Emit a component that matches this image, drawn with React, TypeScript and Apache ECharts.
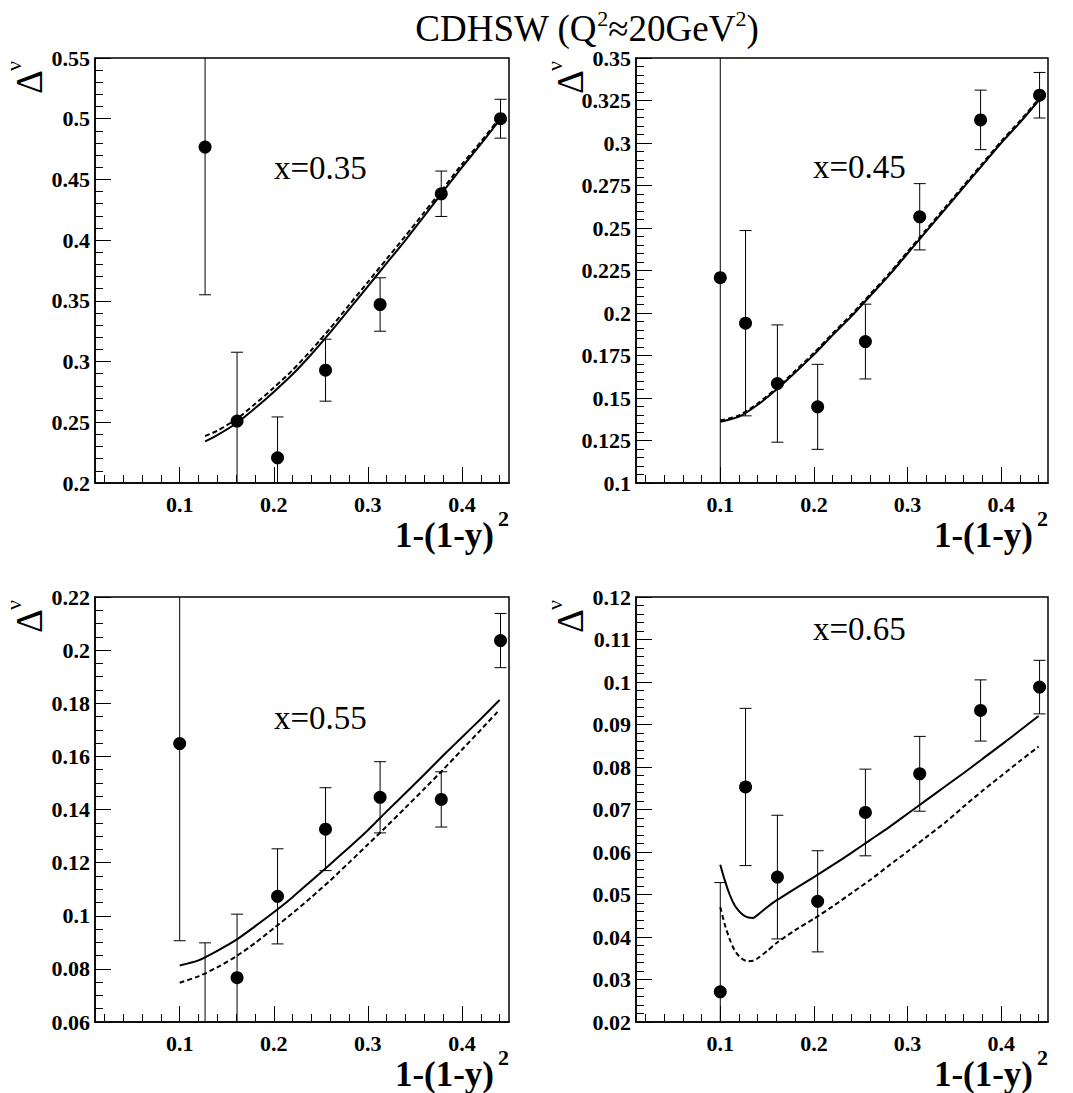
import React, { useEffect, useRef } from "react";
import * as echarts from "echarts";

// Abscissae of the measurements, 1-(1-y)^2
const X_BINS = [0.1, 0.127, 0.161, 0.204, 0.255, 0.313, 0.378, 0.441];
const X_BINS_035 = [0.127, 0.161, 0.204, 0.255, 0.313, 0.378, 0.441];

// CDHSW data points and their (symmetric) errors
const DELTA_035 = [0.4767, 0.251, 0.2207, 0.2929, 0.347, 0.4382, 0.5];
const ERR_035 = [0.1217, 0.0567, 0.0337, 0.0255, 0.022, 0.0187, 0.016];

const DELTA_045 = [0.2208, 0.194, 0.1585, 0.1448, 0.1832, 0.2566, 0.3136, 0.3281];
const ERR_045 = [0.15, 0.0545, 0.0345, 0.025, 0.022, 0.0195, 0.0175, 0.0134];

const DELTA_055 = [0.1648, 0.04, 0.0767, 0.1073, 0.1326, 0.1446, 0.1438, 0.2036];
const ERR_055 = [0.0742, 0.0498, 0.0239, 0.0179, 0.0156, 0.0134, 0.0104, 0.0102];

const DELTA_065 = [0.0271, 0.0753, 0.0541, 0.0484, 0.0693, 0.0784, 0.0933, 0.0988];
const ERR_065 = [0.0257, 0.0185, 0.01455, 0.0119, 0.0102, 0.0088, 0.0072, 0.0063];

// Model curves: solid and dashed
const CURVE_X_035 = [0.127, 0.14, 0.16, 0.18, 0.2, 0.22, 0.24, 0.26, 0.28, 0.3, 0.32, 0.34, 0.36, 0.38, 0.4, 0.42, 0.44];
const SOLID_035 = [0.2343, 0.2395, 0.249, 0.2615, 0.275, 0.2895, 0.306, 0.324, 0.343, 0.362, 0.381, 0.4, 0.42, 0.44, 0.46, 0.479, 0.499];
const DASHED_035 = [0.2387, 0.243, 0.2525, 0.265, 0.2785, 0.293, 0.3095, 0.3275, 0.3465, 0.3655, 0.3845, 0.4035, 0.423, 0.4425, 0.4625, 0.481, 0.5005];

const CURVE_X = [0.1, 0.12, 0.14, 0.16, 0.18, 0.2, 0.22, 0.24, 0.26, 0.28, 0.3, 0.32, 0.34, 0.36, 0.38, 0.4, 0.42, 0.44];
const SOLID_045 = [0.136, 0.139, 0.146, 0.155, 0.165, 0.1755, 0.187, 0.198, 0.21, 0.222, 0.235, 0.248, 0.261, 0.274, 0.287, 0.3, 0.312, 0.325];
const DASHED_045 = [0.1368, 0.1398, 0.1468, 0.1558, 0.166, 0.1765, 0.188, 0.199, 0.211, 0.223, 0.236, 0.249, 0.262, 0.275, 0.288, 0.301, 0.313, 0.3258];

const SOLID_055 = [0.0813, 0.0832, 0.0868, 0.0909, 0.096, 0.1013, 0.107, 0.1132, 0.1194, 0.1257, 0.1322, 0.1393, 0.1462, 0.1532, 0.1603, 0.1672, 0.1741, 0.1812];
const DASHED_055 = [0.0748, 0.0772, 0.0806, 0.0847, 0.0897, 0.0953, 0.101, 0.107, 0.1133, 0.12, 0.1268, 0.1337, 0.1407, 0.1478, 0.155, 0.1625, 0.17, 0.1776];

const CURVE_X_065 = [0.1, 0.105, 0.11, 0.115, 0.12, 0.125, 0.13, 0.135, 0.14, 0.15, 0.16, 0.18, 0.2, 0.22, 0.24, 0.26, 0.28, 0.3, 0.32, 0.34, 0.36, 0.38, 0.4, 0.42, 0.44];
const SOLID_065 = [0.057, 0.0532, 0.05, 0.0476, 0.0461, 0.0451, 0.0446, 0.0445, 0.0452, 0.047, 0.0486, 0.0514, 0.0541, 0.0569, 0.0598, 0.0628, 0.0658, 0.069, 0.0722, 0.0754, 0.0786, 0.0819, 0.0852, 0.0886, 0.092];
const DASHED_065 = [0.047, 0.0428, 0.0395, 0.037, 0.0355, 0.0346, 0.0343, 0.0344, 0.035, 0.0367, 0.0386, 0.0416, 0.0443, 0.0472, 0.0503, 0.0534, 0.0568, 0.0601, 0.0635, 0.0669, 0.0707, 0.0744, 0.0779, 0.0814, 0.0848];

// Axis ticks
const X_MIN = 0.01;
const X_MAX = 0.45;
const X_MAJOR = [0.1, 0.2, 0.3, 0.4];
const X_MINOR = [0.02, 0.04, 0.06, 0.08, 0.12, 0.14, 0.16, 0.18, 0.22, 0.24, 0.26, 0.28, 0.32, 0.34, 0.36, 0.38, 0.42, 0.44];

const PANEL_NAMES = ["x=0.35", "x=0.45", "x=0.55", "x=0.65"];
const Y_MIN = [0.2, 0.1, 0.06, 0.02];
const Y_MAX = [0.55, 0.35, 0.22, 0.12];
const Y_STEP = [0.05, 0.025, 0.02, 0.01];
const Y_MINOR_SPLIT = [5, 5, 4, 5];

// Title pieces: [text, isSuperscript]
const TITLE_PARTS: [string, boolean][] = [
  ["CDHSW (Q", false],
  ["2", true],
  ["≈20GeV", false],
  ["2", true],
  [")", false],
];
const X_TITLE = "1-(1-y)";

const SERIF = "Liberation Serif";
const TITLE_SIZE = 37;
const SUP_SIZE = 22;

// Layout of the four frames, in pixels
const GRIDS = [
  { left: 95, top: 58, width: 414, height: 425 },
  { left: 636, top: 58, width: 412, height: 425 },
  { left: 95, top: 597, width: 414, height: 425 },
  { left: 636, top: 597, width: 412, height: 425 },
];
const NAME_OFFSETS = [
  [179, 110],
  [177, 109],
  [179, 121],
  [177, 32],
];

const fmt = (v: number) => String(+v.toFixed(4));

function textWidth(text: string, size: number): number {
  const ctx = document.createElement("canvas").getContext("2d");
  if (!ctx) return text.length * size * 0.5;
  ctx.font = `${size}px "${SERIF}"`;
  return ctx.measureText(text).width;
}

export default function App() {
  const ref = useRef<HTMLDivElement>(null);

  useEffect(() => {
    if (!ref.current) return;
    const chart = echarts.init(ref.current, undefined, { renderer: "svg" });

    const panels = [
      { xs: X_BINS_035, vals: DELTA_035, errs: ERR_035, cx: CURVE_X_035, solid: SOLID_035, dashed: DASHED_035 },
      { xs: X_BINS, vals: DELTA_045, errs: ERR_045, cx: CURVE_X, solid: SOLID_045, dashed: DASHED_045 },
      { xs: X_BINS, vals: DELTA_055, errs: ERR_055, cx: CURVE_X, solid: SOLID_055, dashed: DASHED_055 },
      { xs: X_BINS, vals: DELTA_065, errs: ERR_065, cx: CURVE_X_065, solid: SOLID_065, dashed: DASHED_065 },
    ];

    const axisLineStyle = { color: "#000", width: 1.5 };
    const tickLineStyle = { color: "#000", width: 1 };
    const labelStyle = {
      color: "#000",
      fontFamily: SERIF,
      fontWeight: "bold" as const,
      fontSize: 22,
      lineHeight: 18,
    };

    const grid = GRIDS.map((g) => ({
      ...g,
      show: true,
      borderColor: "#000",
      borderWidth: 1.5,
      backgroundColor: "transparent",
      containLabel: false,
    }));

    const xAxis: any[] = [];
    const yAxis: any[] = [];
    const series: any[] = [];
    const graphic: any[] = [];

    panels.forEach((p, i) => {
      // major ticks with labels
      xAxis.push({
        gridIndex: i,
        type: "value",
        position: "bottom",
        min: X_MIN,
        max: X_MAX,
        axisLine: { show: true, lineStyle: axisLineStyle },
        axisTick: { show: true, inside: true, length: 16, customValues: X_MAJOR, lineStyle: tickLineStyle },
        axisLabel: { ...labelStyle, customValues: X_MAJOR, margin: 12, formatter: fmt },
        splitLine: { show: false },
      });
      // minor ticks
      xAxis.push({
        gridIndex: i,
        type: "value",
        position: "bottom",
        min: X_MIN,
        max: X_MAX,
        axisLine: { show: false },
        axisTick: { show: true, inside: true, length: 8, customValues: X_MINOR, lineStyle: tickLineStyle },
        axisLabel: { show: false },
        splitLine: { show: false },
      });
      yAxis.push({
        gridIndex: i,
        type: "value",
        min: Y_MIN[i],
        max: Y_MAX[i],
        interval: Y_STEP[i],
        axisLine: { show: true, lineStyle: axisLineStyle },
        axisTick: { show: true, inside: true, length: 16, lineStyle: tickLineStyle },
        minorTick: { show: true, splitNumber: Y_MINOR_SPLIT[i], length: 8, lineStyle: tickLineStyle },
        axisLabel: { ...labelStyle, margin: 5, formatter: fmt },
        splitLine: { show: false },
        minorSplitLine: { show: false },
      });

      const xIdx = i * 2;

      series.push({
        type: "line",
        xAxisIndex: xIdx,
        yAxisIndex: i,
        data: p.cx.map((x, k) => [x, p.dashed[k]]),
        showSymbol: false,
        symbol: "none",
        smooth: 0.25,
        clip: true,
        lineStyle: { color: "#000", width: 2, type: [5, 3] },
        z: 3,
      });
      series.push({
        type: "line",
        xAxisIndex: xIdx,
        yAxisIndex: i,
        data: p.cx.map((x, k) => [x, p.solid[k]]),
        showSymbol: false,
        symbol: "none",
        smooth: 0.25,
        clip: true,
        lineStyle: { color: "#000", width: 2 },
        z: 3,
      });
      series.push({
        type: "custom",
        xAxisIndex: xIdx,
        yAxisIndex: i,
        clip: true,
        encode: { x: 0, y: [1, 2] },
        data: p.xs.map((x, k) => [x, p.vals[k] - p.errs[k], p.vals[k] + p.errs[k]]),
        renderItem: (_params: any, api: any) => {
          const x = api.value(0);
          const lo = api.coord([x, api.value(1)]);
          const hi = api.coord([x, api.value(2)]);
          const cap = 6;
          const st = { stroke: "#000", lineWidth: 1 };
          return {
            type: "group",
            children: [
              { type: "line", shape: { x1: lo[0], y1: lo[1], x2: hi[0], y2: hi[1] }, style: st },
              { type: "line", shape: { x1: lo[0] - cap, y1: lo[1], x2: lo[0] + cap, y2: lo[1] }, style: st },
              { type: "line", shape: { x1: hi[0] - cap, y1: hi[1], x2: hi[0] + cap, y2: hi[1] }, style: st },
            ],
          };
        },
        z: 4,
      });
      series.push({
        type: "scatter",
        xAxisIndex: xIdx,
        yAxisIndex: i,
        clip: true,
        symbol: "circle",
        symbolSize: 13,
        itemStyle: { color: "#000", opacity: 1 },
        data: p.xs.map((x, k) => [x, p.vals[k]]),
        z: 5,
      });

      const g = GRIDS[i];
      const right = g.left + g.width;
      const bottom = g.top + g.height;

      // panel label
      graphic.push({
        type: "text",
        x: g.left + NAME_OFFSETS[i][0],
        y: g.top + NAME_OFFSETS[i][1],
        style: {
          text: PANEL_NAMES[i],
          fontFamily: SERIF,
          fontSize: 33,
          lineHeight: 28,
          fill: "#000",
          align: "left",
          verticalAlign: "middle",
        },
      });
      // x axis title with its exponent
      graphic.push({
        type: "text",
        x: right - 15,
        y: bottom + 52,
        style: {
          text: X_TITLE,
          fontFamily: SERIF,
          fontWeight: "bold",
          fontSize: 35,
          lineHeight: 30,
          fill: "#000",
          align: "right",
          verticalAlign: "middle",
        },
      });
      graphic.push({
        type: "text",
        x: right,
        y: bottom + 35,
        style: {
          text: "2",
          fontFamily: SERIF,
          fontWeight: "bold",
          fontSize: 22,
          lineHeight: 18,
          fill: "#000",
          align: "right",
          verticalAlign: "middle",
        },
      });
      // y axis title, rotated
      graphic.push({
        type: "text",
        x: g.left - 66,
        y: g.top + 24,
        rotation: Math.PI / 2,
        style: {
          text: "Δ",
          fontFamily: SERIF,
          fontSize: 37,
          lineHeight: 30,
          fill: "#000",
          align: "center",
          verticalAlign: "middle",
        },
      });
      graphic.push({
        type: "text",
        x: g.left - 82,
        y: g.top + 8,
        rotation: Math.PI / 2,
        style: {
          text: "ν",
          fontFamily: SERIF,
          fontSize: 22,
          lineHeight: 14,
          fill: "#000",
          align: "center",
          verticalAlign: "middle",
        },
      });
    });

    // figure title, laid out piece by piece so the exponents sit raised
    const widths = TITLE_PARTS.map(([t, sup]) => textWidth(t, sup ? SUP_SIZE : TITLE_SIZE));
    const total = widths.reduce((a, b) => a + b, 0);
    let cursor = 587 - total / 2;
    TITLE_PARTS.forEach(([t, sup], k) => {
      graphic.push({
        type: "text",
        x: cursor,
        y: sup ? 18 : 28,
        style: {
          text: t,
          fontFamily: SERIF,
          fontSize: sup ? SUP_SIZE : TITLE_SIZE,
          lineHeight: sup ? 16 : 30,
          fill: "#000",
          align: "left",
          verticalAlign: "middle",
        },
      });
      cursor += widths[k];
    });

    chart.setOption({
      animation: false,
      backgroundColor: "#fff",
      grid,
      xAxis,
      yAxis,
      series,
      graphic,
    });

    return () => chart.dispose();
  }, []);

  return (
    <div
      ref={ref}
      style={{ position: "absolute", left: 0, top: 0, width: 1073, height: 1093, background: "#fff" }}
    />
  );
}
